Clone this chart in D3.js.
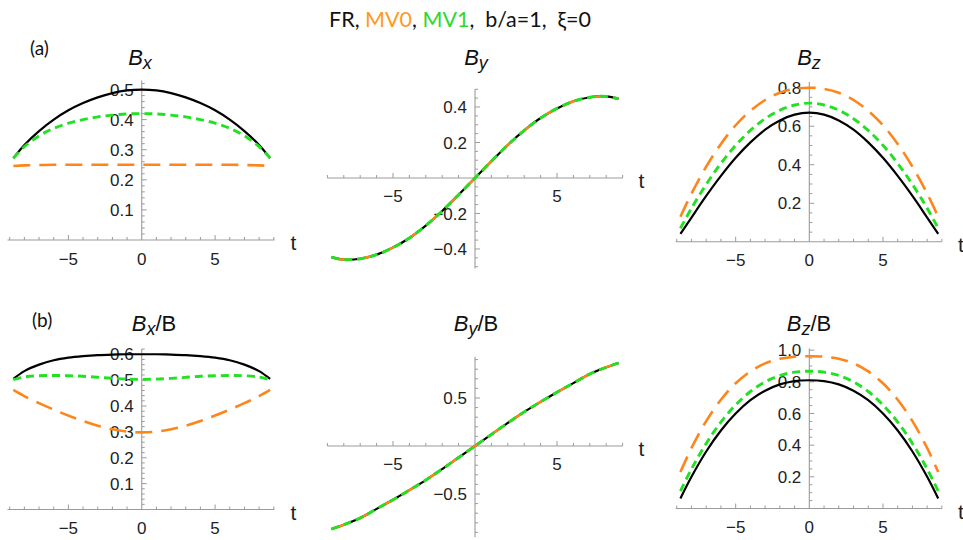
<!DOCTYPE html>
<html><head><meta charset="utf-8">
<script src="https://cdn.jsdelivr.net/npm/d3@7"></script>
<style>body{margin:0;background:#fff} svg{display:block}</style>
</head><body>
<svg id="c" width="963" height="540"></svg>
<script>
// ---------- data ----------
const tVals = [-8.75,-8,-7,-6,-5,-4,-3,-2,-1,0,1,2,3,4,5,6,7,8,8.75];

const bxFR  = [0.272,0.316,0.362,0.400,0.431,0.455,0.474,0.488,0.497,0.500,0.497,0.488,0.474,0.455,0.431,0.400,0.362,0.316,0.272];
const bxMV0 = [0.246,0.248,0.249,0.250,0.250,0.250,0.250,0.250,0.250,0.250,0.250,0.250,0.250,0.250,0.250,0.250,0.249,0.248,0.246];
const bxMV1 = [0.272,0.310,0.346,0.371,0.388,0.400,0.409,0.415,0.419,0.420,0.419,0.415,0.409,0.400,0.388,0.371,0.346,0.310,0.272];

const byFR  = [-0.446,-0.460,-0.455,-0.432,-0.392,-0.338,-0.268,-0.186,-0.094,0,0.094,0.186,0.268,0.338,0.392,0.432,0.455,0.460,0.446];
const byMV0 = [-0.446,-0.460,-0.455,-0.432,-0.392,-0.338,-0.268,-0.186,-0.094,0,0.094,0.186,0.268,0.338,0.392,0.432,0.455,0.460,0.446];
const byMV1 = [-0.446,-0.460,-0.455,-0.432,-0.392,-0.338,-0.268,-0.186,-0.094,0,0.094,0.186,0.268,0.338,0.392,0.432,0.455,0.460,0.446];

const bzFR  = [0.041,0.126,0.238,0.342,0.436,0.516,0.582,0.630,0.660,0.670,0.660,0.630,0.582,0.516,0.436,0.342,0.238,0.126,0.041];
const bzMV0 = [0.130,0.250,0.390,0.508,0.605,0.680,0.736,0.774,0.794,0.800,0.794,0.774,0.736,0.680,0.605,0.508,0.390,0.250,0.130];
const bzMV1 = [0.070,0.174,0.298,0.407,0.501,0.578,0.639,0.683,0.710,0.720,0.710,0.683,0.639,0.578,0.501,0.407,0.298,0.174,0.070];

const bxnFR  = [0.505,0.535,0.560,0.577,0.587,0.593,0.597,0.599,0.600,0.600,0.600,0.599,0.597,0.593,0.587,0.577,0.560,0.535,0.505];
const bxnMV0 = [0.462,0.438,0.411,0.386,0.363,0.342,0.324,0.310,0.301,0.298,0.301,0.310,0.324,0.342,0.363,0.386,0.411,0.438,0.462];
const bxnMV1 = [0.502,0.512,0.517,0.518,0.517,0.515,0.511,0.507,0.504,0.503,0.504,0.507,0.511,0.515,0.517,0.518,0.517,0.512,0.502];

const bynFR  = [-0.865,-0.820,-0.750,-0.655,-0.560,-0.460,-0.355,-0.240,-0.120,0,0.120,0.240,0.355,0.460,0.560,0.655,0.750,0.820,0.865];
const bynMV0 = [-0.865,-0.820,-0.750,-0.655,-0.560,-0.460,-0.355,-0.240,-0.120,0,0.120,0.240,0.355,0.460,0.560,0.655,0.750,0.820,0.865];
const bynMV1 = [-0.865,-0.820,-0.750,-0.655,-0.560,-0.460,-0.355,-0.240,-0.120,0,0.120,0.240,0.355,0.460,0.560,0.655,0.750,0.820,0.865];

const bznFR  = [0.063,0.200,0.360,0.493,0.600,0.684,0.744,0.784,0.805,0.810,0.805,0.784,0.744,0.684,0.600,0.493,0.360,0.200,0.063];
const bznMV0 = [0.230,0.382,0.552,0.687,0.791,0.866,0.917,0.946,0.959,0.962,0.959,0.946,0.917,0.866,0.791,0.687,0.552,0.382,0.230];
const bznMV1 = [0.110,0.249,0.411,0.546,0.654,0.739,0.800,0.840,0.861,0.867,0.861,0.840,0.800,0.739,0.654,0.546,0.411,0.249,0.110];

const seriesNames = ["FR","MV0","MV1"];
const xTickValues = [-5,0,5];
const yTicksBx  = [0.1,0.2,0.3,0.4,0.5];
const yTicksBy  = [-0.4,-0.2,0.2,0.4];
const yTicksBz  = [0.2,0.4,0.6,0.8];
const yTicksBxn = [0.1,0.2,0.3,0.4,0.5,0.6];
const yTicksByn = [-0.5,0.5];
const yTicksBzn = [0.2,0.4,0.6,0.8,1.0];

// ---------- styles ----------
const style = {
  FR:  {color:"#000000", width:2.2, dash:null},
  MV0: {color:"#ff8419", width:2.6, dash:"17,9"},
  MV1: {color:"#22e022", width:2.9, dash:"8,5"}
};
const axisColor = "#9b9b9b";
const tickFont = "'Liberation Sans', Arial, sans-serif";

// ---------- layout ----------
const panels = [
  {data:[bxFR,bxMV0,bxMV1], xd:[-9.15,9.05], xr:[7.5,274.5], yd:[0,0.53], yr:[240,80.5],
   yt:yTicksBx, yMinor:0.02, showZero:true, sub:"x", tail:"", tx:140, ty:65},
  {data:[byFR,byMV0,byMV1], xd:[-9.0,9.0], xr:[327.4,622.6], yd:[-0.51,0.50], yr:[268.5,89.25],
   yt:yTicksBy, yMinor:0.05, showZero:false, sub:"y", tail:"", tx:476, ty:65},
  {data:[bzFR,bzMV0,bzMV1], xd:[-9.07,9.0], xr:[675.7,941.9], yd:[0,0.83], yr:[241.8,81.9],
   yt:yTicksBz, yMinor:0.05, showZero:true, sub:"z", tail:"", tx:809, ty:65},
  {data:[bxnFR,bxnMV0,bxnMV1], xd:[-9.15,9.05], xr:[7.5,274.5], yd:[0,0.62], yr:[509.5,349.1],
   yt:yTicksBxn, yMinor:0.02, showZero:true, sub:"x", tail:"/B", tx:154, ty:331},
  {data:[bynFR,bynMV0,bynMV1], xd:[-9.0,9.0], xr:[327.4,622.6], yd:[-0.95,0.93], yr:[537.2,356.7],
   yt:yTicksByn, yMinor:0.1, showZero:false, sub:"y", tail:"/B", tx:476, ty:331},
  {data:[bznFR,bznMV0,bznMV1], xd:[-9.07,9.0], xr:[675.7,941.9], yd:[0,1.01], yr:[508.5,348.6],
   yt:yTicksBzn, yMinor:0.05, showZero:true, sub:"z", tail:"/B", tx:809, ty:331}
];

const svg = d3.select("#c");
const fmt = v => (v<0?"\u2212":"") + Math.abs(v).toFixed(1);

panels.forEach(p => {
  const x = d3.scaleLinear().domain(p.xd).range(p.xr);
  const y = d3.scaleLinear().domain(p.yd).range(p.yr);
  const g = svg.append("g");
  const x0 = x(0), y0 = y(0);

  g.append("line").attr("x1",p.xr[0]).attr("x2",p.xr[1]).attr("y1",y0).attr("y2",y0)
    .attr("stroke",axisColor).attr("stroke-width",1.1);
  g.append("line").attr("x1",x0).attr("x2",x0).attr("y1",p.yr[0]).attr("y2",p.yr[1])
    .attr("stroke",axisColor).attr("stroke-width",1.1);

  const xt = d3.range(Math.ceil(p.xd[0]), Math.floor(p.xd[1])+1, 1).filter(v=>v!==0);
  g.selectAll(null).data(xt).enter().append("line")
    .attr("x1",d=>x(d)).attr("x2",d=>x(d)).attr("y1",y0)
    .attr("y2",d=> y0 - (d%5===0?5:3)).attr("stroke",axisColor).attr("stroke-width",1);
  g.selectAll(null).data(xTickValues.filter(v=>p.showZero||v!==0)).enter().append("text")
    .attr("x",d=>x(d)).attr("y",y0+24.5).attr("text-anchor","middle")
    .attr("font-family",tickFont).attr("font-size",17).attr("fill","#222")
    .text(d=> d<0 ? "\u2212"+Math.abs(d) : String(d));

  const nMin = Math.ceil(p.yd[0]/p.yMinor-1e-6), nMax = Math.floor(p.yd[1]/p.yMinor+1e-6);
  const ym = d3.range(nMin, nMax+1).map(k=>+(k*p.yMinor).toFixed(4)).filter(v=>v!==0);
  const isMajor = v => p.yt.some(m=>Math.abs(m-v)<1e-6);
  g.selectAll(null).data(ym).enter().append("line")
    .attr("x1",x0).attr("x2",d=>x0+(isMajor(d)?5:3)).attr("y1",d=>y(d)).attr("y2",d=>y(d))
    .attr("stroke",axisColor).attr("stroke-width",1);
  g.selectAll(null).data(p.yt).enter().append("text")
    .attr("x",x0-8).attr("y",d=>y(d)).attr("dy","0.36em").attr("text-anchor","end")
    .attr("font-family",tickFont).attr("font-size",17).attr("fill","#222")
    .text(fmt);

  g.append("text").attr("x",p.xr[1]+16).attr("y",y0+10)
    .attr("font-family",tickFont).attr("font-size",21).attr("fill","#222").text("t");

  const tt = g.append("text").attr("x",p.tx).attr("y",p.ty).attr("text-anchor","middle")
    .attr("font-family",tickFont).attr("font-size",22).attr("fill","#111");
  tt.append("tspan").attr("font-style","italic").text("B");
  tt.append("tspan").attr("font-style","italic").attr("font-size",18).attr("dy",4).text(p.sub);
  if (p.tail) tt.append("tspan").attr("dy",-4).text(p.tail);

  const line = d3.line().x(d=>x(d[0])).y(d=>y(d[1])).curve(d3.curveCatmullRom.alpha(0.5));
  p.data.forEach((vals,i) => {
    const s = style[seriesNames[i]];
    g.append("path").datum(tVals.map((t,j)=>[t,vals[j]]))
      .attr("d",line).attr("fill","none").attr("stroke",s.color)
      .attr("stroke-width",s.width).attr("stroke-dasharray",s.dash);
  });
});

svg.append("text").attr("x",30).attr("y",55).attr("font-family","Lato, 'Open Sans', sans-serif")
  .attr("font-size",19).attr("fill","#111").text("(a)");
svg.append("text").attr("x",32).attr("y",327).attr("font-family","Lato, 'Open Sans', sans-serif")
  .attr("font-size",19).attr("fill","#111").text("(b)");

const title = svg.append("text").attr("x",460).attr("y",27).attr("text-anchor","middle")
  .attr("font-family","Lato, 'Open Sans', sans-serif").attr("font-size",21.5).attr("fill","#111")
  .attr("xml:space","preserve").style("white-space","pre");
title.append("tspan").text("FR, ");
title.append("tspan").attr("fill","#ff9a1f").text("MV0");
title.append("tspan").text(", ");
title.append("tspan").attr("fill","#2fd82f").text("MV1");
title.append("tspan").text(",  b/a=1,  \u03BE=0");
</script>
</body></html>
